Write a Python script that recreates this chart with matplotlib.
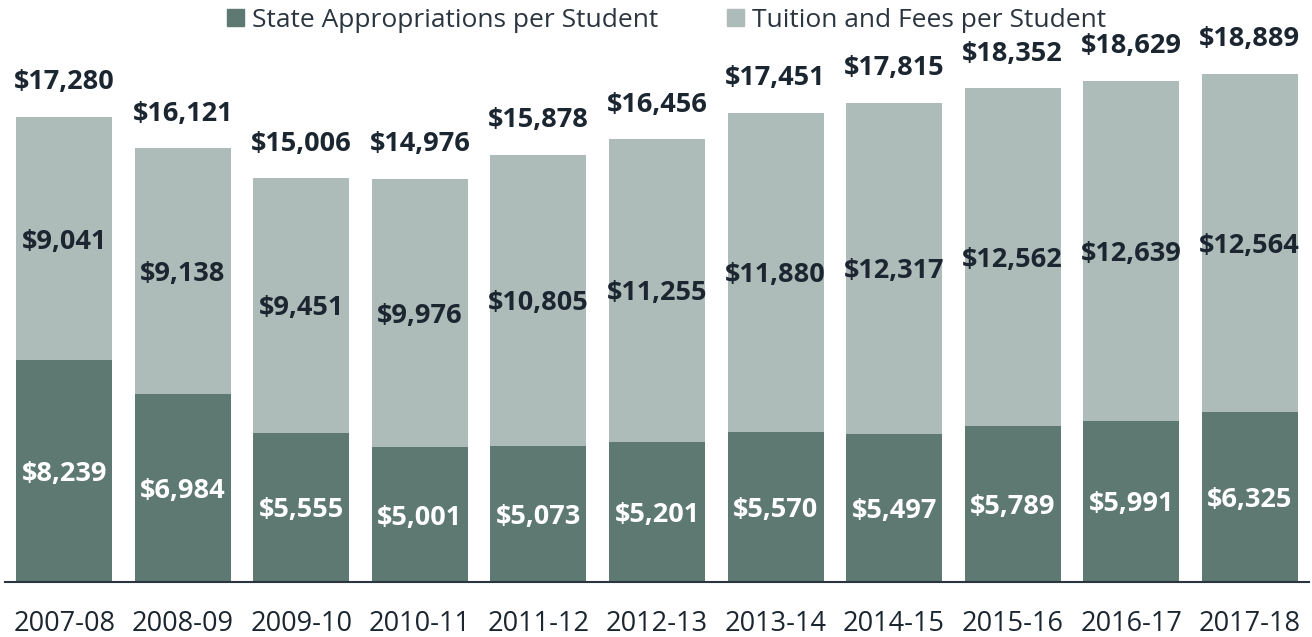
import matplotlib
matplotlib.use("Agg")
import matplotlib.pyplot as plt
from matplotlib.patches import Patch

plt.rcParams['font.family'] = ['Open Sans', 'DejaVu Sans']

years = ['2007-08', '2008-09', '2009-10', '2010-11', '2011-12', '2012-13',
         '2013-14', '2014-15', '2015-16', '2016-17', '2017-18']
state = [8239, 6984, 5555, 5001, 5073, 5201, 5570, 5497, 5789, 5991, 6325]
tuition = [9041, 9138, 9451, 9976, 10805, 11255, 11880, 12317, 12562, 12639, 12564]
totals = [17280, 16121, 15006, 14976, 15878, 16456, 17451, 17815, 18352, 18629, 18889]

dark = '#5e7872'
light = '#aebcb9'
ink = '#1b2631'
fs = 19.5

fig = plt.figure(figsize=(13.12, 6.37), dpi=100)
ax = fig.add_axes([5 / 1312, 55 / 637, 1304 / 1312, 538 / 637])

x = list(range(len(years)))
w = 0.81
ax.bar(x, state, width=w, color=dark, zorder=2)
ax.bar(x, tuition, width=w, bottom=state, color=light, zorder=2)

for i in x:
    ax.annotate(f'${state[i]:,}', (i, state[i] / 2), xytext=(0, -2),
                textcoords='offset points', ha='center', va='center',
                color='white', fontsize=fs, fontweight='bold')
    ax.annotate(f'${tuition[i]:,}', (i, state[i] + tuition[i] / 2),
                xytext=(0, -2), textcoords='offset points', ha='center',
                va='center', color=ink, fontsize=fs, fontweight='bold')
    ax.annotate(f'${totals[i]:,}', (i, state[i] + tuition[i]),
                xytext=(0, 25), textcoords='offset points', ha='center',
                va='center', color=ink, fontsize=fs, fontweight='bold')

ax.set_xlim(-0.5, len(years) - 0.5)
ax.set_ylim(0, 20000)
ax.set_xticks(x)
ax.set_xticklabels(years, fontsize=fs, color=ink)
ax.tick_params(axis='x', length=0, pad=20)
ax.set_yticks([])
for s in ['top', 'right', 'left']:
    ax.spines[s].set_visible(False)
ax.spines['bottom'].set_color('#2a3540')
ax.spines['bottom'].set_linewidth(1.5)

handles = [Patch(color=dark, label='State Appropriations per Student'),
           Patch(color=light, label='Tuition and Fees per Student')]
fig.legend(handles=handles, loc='upper center', bbox_to_anchor=(0.508, 1.025),
           ncol=2, frameon=False, fontsize=19, handlelength=0.65,
           handleheight=0.65, handletextpad=0.3, columnspacing=2.6,
           labelcolor='#2a3540')

fig.savefig('out.png', dpi=100)
